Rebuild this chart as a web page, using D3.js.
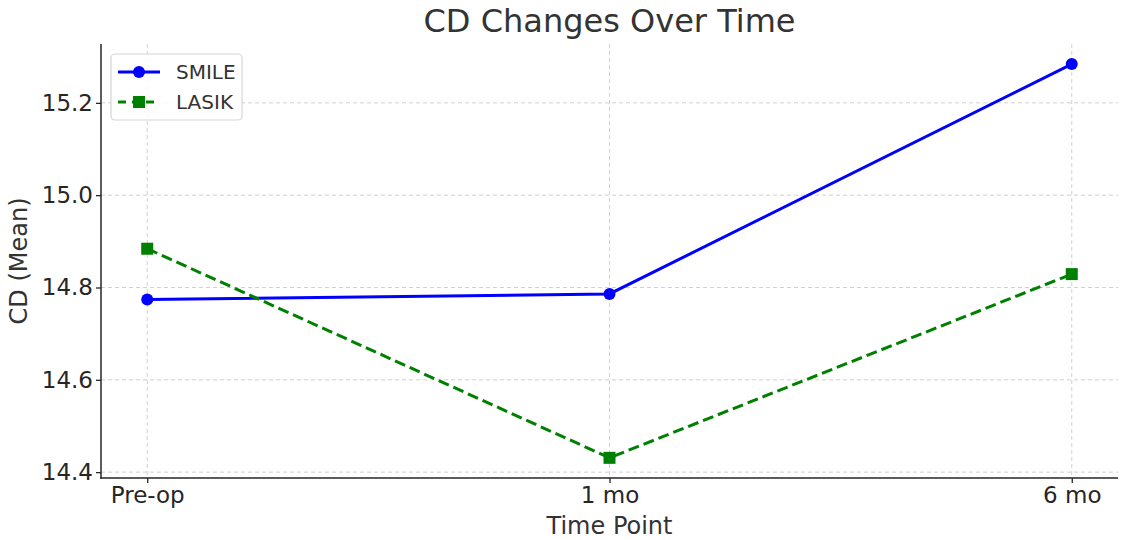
<!DOCTYPE html>
<html><head><meta charset="utf-8">
<script src="https://cdn.jsdelivr.net/npm/d3@7"></script>
<style>body{margin:0;background:#fff;} svg{display:block;font-family:"DejaVu Sans",sans-serif;}</style>
</head><body>
<svg id="c" width="1122" height="540"></svg>
<script>
const categories = ["Pre-op", "1 mo", "6 mo"];
const smile = [14.774, 14.786, 15.284];
const lasik = [14.884, 14.431, 14.829];
const yTicks = [14.4, 14.6, 14.8, 15.0, 15.2];
const title = "CD Changes Over Time";
const xLabel = "Time Point";
const yLabel = "CD (Mean)";

const svg = d3.select("#c");
const L = 101, R = 1118, T = 44, B = 478;
const x = d3.scaleLinear().domain([-0.1, 2.1]).range([L, R]);
const y = d3.scaleLinear().domain([14.3873, 15.3275]).range([B, T]);

// grid
const g = svg.append("g");
g.selectAll(".gx").data(categories).enter().append("line")
  .attr("x1", (d,i)=>x(i)).attr("x2", (d,i)=>x(i)).attr("y1", T).attr("y2", B)
  .attr("stroke", "#cccccc").attr("stroke-width", 0.9).attr("stroke-dasharray", "4,3");
g.selectAll(".gy").data(yTicks).enter().append("line")
  .attr("x1", L).attr("x2", R).attr("y1", d=>y(d)).attr("y2", d=>y(d))
  .attr("stroke", "#cccccc").attr("stroke-width", 0.9).attr("stroke-dasharray", "4,3");

// axes
const xAxis = d3.axisBottom(x).tickValues([0,1,2]).tickFormat(i=>categories[i]).tickSize(5).tickPadding(4);
const yAxis = d3.axisLeft(y).tickValues(yTicks).tickFormat(d3.format(".1f")).tickSize(5).tickPadding(3);
const gx = svg.append("g").attr("transform", `translate(0,${B})`).call(xAxis);
const gy = svg.append("g").attr("transform", `translate(${L},0)`).call(yAxis);
[gx, gy].forEach(a=>{
  a.select(".domain").remove();
  a.selectAll(".tick line").attr("stroke", "#262626").attr("stroke-width", 1.3);
  a.selectAll(".tick text").attr("fill", "#262626").style("font-size", "23px").style("font-family", "DejaVu Sans");
});
svg.append("line").attr("x1", L).attr("x2", L).attr("y1", T).attr("y2", B+0.75).attr("stroke", "#262626").attr("stroke-width", 1.5);
svg.append("line").attr("x1", L-0.75).attr("x2", R).attr("y1", B).attr("y2", B).attr("stroke", "#262626").attr("stroke-width", 1.5);

// lines
const line = d3.line().x((d,i)=>x(i)).y(d=>y(d));
svg.append("path").datum(smile).attr("d", line).attr("fill", "none").attr("stroke", "#0000ff").attr("stroke-width", 3);
svg.append("path").datum(lasik).attr("d", line).attr("fill", "none").attr("stroke", "#008000").attr("stroke-width", 3).attr("stroke-dasharray", "11,5");
svg.selectAll(".ms").data(smile).enter().append("circle")
  .attr("cx", (d,i)=>x(i)).attr("cy", d=>y(d)).attr("r", 6).attr("fill", "#0000ff");
svg.selectAll(".ml").data(lasik).enter().append("rect")
  .attr("x", (d,i)=>x(i)-6).attr("y", d=>y(d)-6).attr("width", 12).attr("height", 12).attr("fill", "#008000");

// title & labels
svg.append("text").attr("x", (L+R)/2).attr("y", 32).attr("text-anchor", "middle")
  .style("font-size", "32px").attr("fill", "#333333").text(title);
svg.append("text").attr("x", (L+R)/2).attr("y", 534).attr("text-anchor", "middle")
  .style("font-size", "24px").attr("fill", "#333333").text(xLabel);
svg.append("text").attr("transform", `translate(27,${(T+B)/2}) rotate(-90)`).attr("text-anchor", "middle")
  .style("font-size", "24px").attr("fill", "#333333").text(yLabel);

// legend
const lg = svg.append("g");
lg.append("rect").attr("x", 111).attr("y", 54).attr("width", 131).attr("height", 66).attr("rx", 4)
  .attr("fill", "#ffffff").attr("fill-opacity", 0.85).attr("stroke", "#d6d6d6").attr("stroke-width", 1.2);
const items = [{name:"SMILE", color:"#0000ff", dash:null, shape:"circle"}, {name:"LASIK", color:"#008000", dash:"9,4", shape:"rect"}];
items.forEach((it, k)=>{
  const yy = 72 + k*30;
  lg.append("line").attr("x1", 118).attr("x2", 160).attr("y1", yy).attr("y2", yy)
    .attr("stroke", it.color).attr("stroke-width", 3).attr("stroke-dasharray", it.dash ? "8,6" : null);
  if (it.shape === "circle") lg.append("circle").attr("cx", 139).attr("cy", yy).attr("r", 6).attr("fill", it.color);
  else lg.append("rect").attr("x", 133).attr("y", yy-6).attr("width", 12).attr("height", 12).attr("fill", it.color);
  lg.append("text").attr("x", 176).attr("y", yy+7).style("font-size", "20px").attr("fill", "#333333").text(it.name);
});
</script>
</body></html>
